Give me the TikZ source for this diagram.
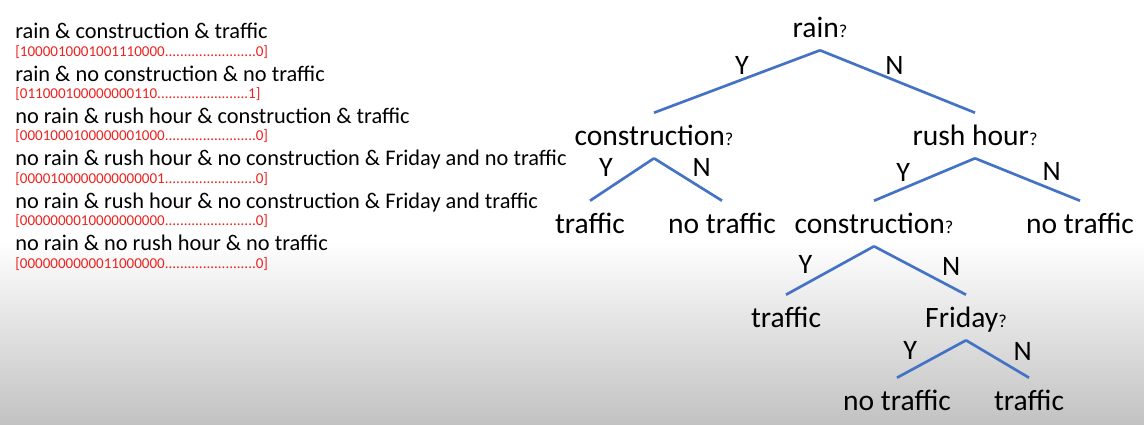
\documentclass[tikz,border=0pt]{standalone}
\usepackage{fontspec}
\setmainfont{Carlito}
\usepackage{xcolor}
\usetikzlibrary{positioning}
\definecolor{branchblue}{RGB}{68,114,196}
\definecolor{bitred}{RGB}{236,34,30}
\definecolor{bggray}{RGB}{194,194,194}
\newcommand{\qm}{{\fontsize{13}{15}\selectfont ?}}
\newcommand{\bitdots}{........................}

\begin{document}
\begin{tikzpicture}[x=0.025cm, y=-0.025cm,
  rule/.style={anchor=base west, inner sep=0pt, font=\fontsize{15.9}{19}\selectfont},
  bits/.style={anchor=base west, inner sep=0pt, text=bitred, font=\fontsize{10.7}{13}\selectfont},
  tnode/.style={anchor=base, inner sep=0pt, text height=0.8cm, text depth=0.325cm, font=\fontsize{21}{25}\selectfont},
  br/.style={draw=branchblue, line width=1.9pt},
  yn/.style={inner sep=0pt, font=\fontsize{20}{24}\selectfont}]
\useasboundingbox (0,0) rectangle (1144,424);
\fill[white] (0,0) rectangle (1144,424);
\shade[top color=white, bottom color=bggray] (0,240) rectangle (1144,424);
% training examples
\node[rule] (r1) at (15,38.5) {rain \& construction \& traffic};
\node[bits] (b1) at (15,56) {[1000010001001110000\bitdots0]};
\node[rule] (r2) at (15,81) {rain \& no construction \& no traffic};
\node[bits] (b2) at (15,98.4) {[011000100000000110\bitdots1]};
\node[rule] (r3) at (15,123.3) {no rain \& rush hour \& construction \& traffic};
\node[bits] (b3) at (15,140.8) {[0001000100000001000\bitdots0]};
\node[rule] (r4) at (15,165.7) {no rain \& rush hour \& no construction \& Friday and no traffic};
\node[bits] (b4) at (15,183.2) {[0000100000000000001\bitdots0]};
\node[rule] (r5) at (15,208.1) {no rain \& rush hour \& no construction \& Friday and traffic};
\node[bits] (b5) at (15,225.6) {[0000000010000000000\bitdots0]};
\node[rule] (r6) at (15,250.5) {no rain \& no rush hour \& no traffic};
\node[bits] (b6) at (15,268) {[0000000000011000000\bitdots0]};
% decision tree
\node[tnode] (rain) at (820,37) {rain\qm};
\node[tnode] (cl) at (654,145) {construction\qm};
\node[tnode] (rush) at (975,145) {rush hour\qm};
\node[tnode] (t1) at (590,233) {traffic};
\node[tnode] (n1) at (722,233) {no traffic};
\node[tnode] (cr) at (874,233) {construction\qm};
\node[tnode] (n2) at (1080,233) {no traffic};
\node[tnode] (t2) at (786,327) {traffic};
\node[tnode] (fri) at (966,327) {Friday\qm};
\node[tnode] (n3) at (897,410) {no traffic};
\node[tnode] (t3) at (1029,410) {traffic};
\draw[br] (rain.south) -- node[yn, pos=.47, above=2.6pt] {Y} (cl.north);
\draw[br] (rain.south) -- node[yn, pos=.48, above=3.4pt] {N} (rush.north);
\draw[br] (cl.south) -- node[yn, pos=.75, above=8.9pt] {Y} (t1.north);
\draw[br] (cl.south) -- node[yn, pos=.70, above=7.1pt] {N} (n1.north);
\draw[br] (rush.south) -- node[yn, pos=.71, above=4.3pt] {Y} (cr.north);
\draw[br] (rush.south) -- node[yn, pos=.73, above=5pt] {N} (n2.north);
\draw[br] (cr.south) -- node[yn, pos=.78, above=6.9pt] {Y} (t2.north);
\draw[br] (cr.south) -- node[yn, pos=.84, above=7.1pt] {N} (fri.north);
\draw[br] (fri.south) -- node[yn, pos=.81, above=6.6pt] {Y} (n3.north);
\draw[br] (fri.south) -- node[yn, pos=.90, above=8.4pt] {N} (t3.north);
\end{tikzpicture}
\end{document}
